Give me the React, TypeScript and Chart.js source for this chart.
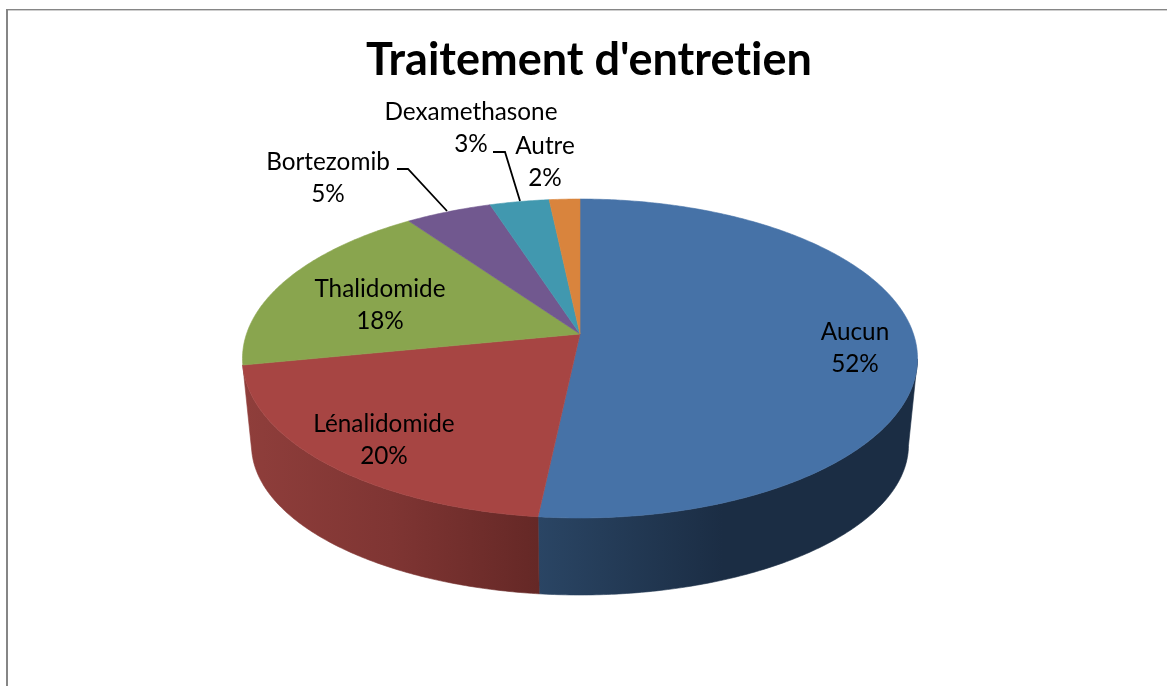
import { useEffect, useRef } from "react";
import { Chart, registerables } from "chart.js";

Chart.register(...registerables);

const categories = ["Aucun", "Lénalidomide", "Thalidomide", "Bortezomib", "Dexamethasone", "Autre"];
const values = [51.7, 20.2, 18.3, 4.8, 3.3, 1.7];
const shownPercents = [52, 20, 18, 5, 3, 2];
const topColors = ["#4672A7", "#A74543", "#89A54E", "#71588F", "#4198AF", "#D9843D"];
const chartTitle = "Traitement d'entretien";

const FONT = "Lato, Carlito, sans-serif";

// Projection of the tilted disc (perspective view of a circle)
const K = 0.1536;
const TOP = { cx: 580, a: 333.5, b: 334, c: 104.4 };
const BOTTOM = { cx: 580, a: 324.6, b: 422, c: 81.6 };
const SIDE_FROM = (99 * Math.PI) / 180;
const SIDE_TO = (258.9 * Math.PI) / 180;

type Disc = typeof TOP;
function project(d: Disc, theta: number) {
  const u = Math.sin(theta);
  const v = -Math.cos(theta);
  const w = 1 - K * v;
  return { x: d.cx + (d.a * u) / w, y: (d.c * v + d.b) / w };
}

function arcTo(ctx: CanvasRenderingContext2D, d: Disc, from: number, to: number) {
  const steps = Math.max(2, Math.ceil(Math.abs(to - from) / 0.01));
  for (let i = 0; i <= steps; i++) {
    const p = project(d, from + ((to - from) * i) / steps);
    ctx.lineTo(p.x, p.y);
  }
}

const sideGradients: Record<number, [number, number, [number, string][]]> = {
  0: [538, 908, [[0, "#2A4564"], [0.5, "#1B2D44"], [1, "#1B2D44"]]],
  1: [245, 538, [[0, "#8F3E3B"], [0.5, "#7F3533"], [1, "#652826"]]],
};

const labelAnchors: [number, number][] = [
  [855, 348],
  [384, 440],
  [380, 305],
  [328, 178],
  [471, 128],
  [545, 162],
];

const leaders: Record<number, [number, number][]> = {
  3: [[397, 169], [408, 169], [447, 211]],
  4: [[493, 152], [505, 152], [520, 201]],
};

const pie3d = {
  id: "pie3d",
  beforeDraw(chart: Chart) {
    const { ctx, width, height } = chart;
    (ctx as any).letterSpacing = "0.01px";
    ctx.save();
    ctx.fillStyle = "#ffffff";
    ctx.fillRect(0, 0, width, height);
    ctx.fillStyle = "#868686";
    ctx.fillRect(6, 9, 2, height - 9);
    ctx.fillRect(6, 9, width - 6, 1.4);
    ctx.restore();
  },
  beforeDatasetDraw(chart: Chart, args: any) {
    const { ctx } = chart;
    const arcs = args.meta.data as any[];
    const toTheta = (a: number) => a + Math.PI / 2;
    ctx.save();
    // rim of the disc
    arcs.forEach((arc, i) => {
      const s = Math.max(toTheta(arc.startAngle), SIDE_FROM);
      const e = Math.min(toTheta(arc.endAngle), SIDE_TO);
      if (e <= s || !sideGradients[i]) return;
      const [x0, x1, stops] = sideGradients[i];
      const g = ctx.createLinearGradient(x0, 0, x1, 0);
      stops.forEach(([o, c]) => g.addColorStop(o, c));
      ctx.fillStyle = g;
      ctx.strokeStyle = g;
      ctx.lineWidth = 0.6;
      ctx.beginPath();
      const p0 = project(TOP, s);
      ctx.moveTo(p0.x, p0.y);
      arcTo(ctx, TOP, s, e);
      arcTo(ctx, BOTTOM, e, s);
      ctx.closePath();
      ctx.fill();
      ctx.stroke();
    });
    // top face
    const apex = { x: TOP.cx, y: TOP.b };
    arcs.forEach((arc, i) => {
      ctx.fillStyle = topColors[i];
      ctx.strokeStyle = topColors[i];
      ctx.lineWidth = 0.6;
      ctx.beginPath();
      ctx.moveTo(apex.x, apex.y);
      arcTo(ctx, TOP, toTheta(arc.startAngle), toTheta(arc.endAngle));
      ctx.closePath();
      ctx.fill();
      ctx.stroke();
    });
    ctx.restore();
    return false;
  },
  afterDatasetsDraw(chart: Chart) {
    const { ctx } = chart;
    ctx.save();
    ctx.strokeStyle = "#000000";
    ctx.lineWidth = 1.8;
    Object.values(leaders).forEach((pts) => {
      ctx.beginPath();
      pts.forEach(([x, y], j) => (j ? ctx.lineTo(x, y) : ctx.moveTo(x, y)));
      ctx.stroke();
    });
    ctx.fillStyle = "#000000";
    ctx.font = `24.3px ${FONT}`;
    ctx.textAlign = "center";
    ctx.textBaseline = "middle";
    categories.forEach((name, i) => {
      const [x, y] = labelAnchors[i];
      ctx.fillText(name, x, y - 16);
      ctx.fillText(`${shownPercents[i]}%`, x, y + 16);
    });
    ctx.restore();
  },
};

export default function App() {
  const ref = useRef<HTMLCanvasElement>(null);
  useEffect(() => {
    const chart = new Chart(ref.current!, {
      type: "pie",
      data: {
        labels: categories,
        datasets: [{ data: values, backgroundColor: topColors, borderWidth: 0 }],
      },
      options: {
        animation: false,
        responsive: false,
        events: [],
        layout: { padding: { left: 11 } },
        plugins: {
          legend: { display: false },
          tooltip: { enabled: false },
          title: {
            display: true,
            text: chartTitle,
            color: "#000000",
            font: { family: FONT, size: 45, weight: "bold" },
            padding: { top: 33, bottom: 10 },
          },
        },
      },
      plugins: [pie3d as any],
    });
    return () => chart.destroy();
  }, []);
  return (
    <canvas
      ref={ref}
      width={1167}
      height={686}
      style={{ position: "absolute", left: 0, top: 0, display: "block" }}
    />
  );
}
